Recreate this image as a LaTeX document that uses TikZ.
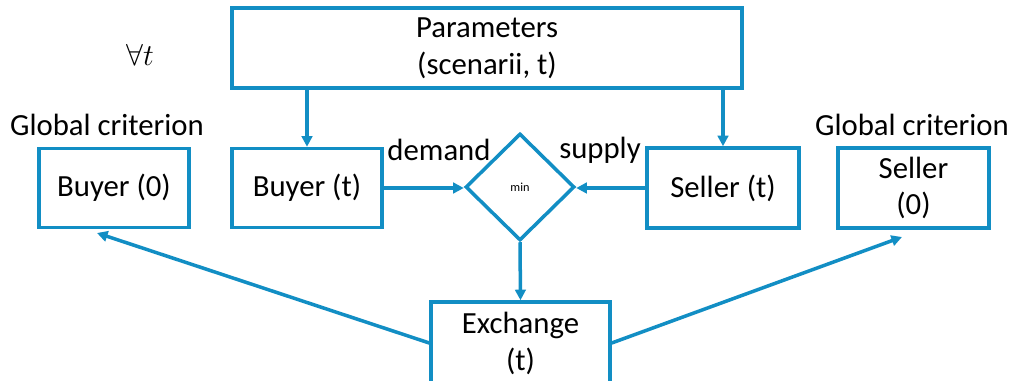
\documentclass[tikz,border=0pt]{standalone}
\usepackage{fontspec}
\setmainfont{Carlito}
\usetikzlibrary{shapes.geometric,arrows.meta}
\definecolor{flowblue}{RGB}{18,142,196}
\begin{document}
\begin{tikzpicture}[x=0.02cm, y=-0.02cm,
    box/.style={draw=flowblue, line width=2pt, align=center, inner sep=0pt,
        font=\fontsize{17.5}{21}\selectfont},
    lbl/.style={font=\fontsize{17.5}{21}\selectfont, inner sep=0pt},
    flow/.style={draw=flowblue, line width=2pt, -{Triangle[length=6pt,width=6pt]}}]
        \useasboundingbox (0,0) rectangle (1014,381);
        % boxes
        \node[box, minimum width=10.2cm, minimum height=1.6cm] (param) at (487,48) {Parameters\\(scenarii, t)};
        \node[box, minimum width=3cm, minimum height=1.58cm] (buyer0) at (114,188) {Buyer (0)};
        \node[box, minimum width=3cm, minimum height=1.58cm] (buyert) at (307,188) {Buyer (t)};
        \node[box, minimum width=3.04cm, minimum height=1.6cm] (sellert) at (723,188) {Seller (t)};
        \node[box, minimum width=3.02cm, minimum height=1.6cm] (seller0) at (913.5,188) {Seller\\(0)};
        \node[box, diamond, minimum width=2.18cm, minimum height=2.14cm,
            font=\fontsize{7}{8}\selectfont] (min) at (520,187) {min};
        \node[box, minimum width=3.58cm, minimum height=1.66cm] (exch) at (520.5,343.5) {Exchange\\(t)};
        % labels
        \node[lbl, font=\fontsize{19}{21}\selectfont] (forall) at (140,55) {$\forall t$};
        \node[lbl] (globl) at (107,125) {Global criterion};
        \node[lbl] (globr) at (912,125) {Global criterion};
        \node[lbl] (demand) at (439,150) {demand};
        \node[lbl] (supply) at (600,150) {supply};
        % arrows
        \draw[flow] (param.south -| buyert) -- (buyert.north);
        \draw[flow] (param.south -| sellert) -- (sellert.north);
        \draw[flow] (buyert.east) -- (buyert.east -| min.west);
        \draw[flow] (sellert.west) -- (sellert.west -| min.east);
        \draw[flow] (min.south) -- (exch.north);
        \coordinate (b0tip) at (97,233);
        \coordinate (s0tip) at (902,237);
        \draw[flow] (exch.west |- 0,343) -- (b0tip);
        \draw[flow] (exch.east |- 0,343) -- (s0tip);
    \end{tikzpicture}
\end{document}
